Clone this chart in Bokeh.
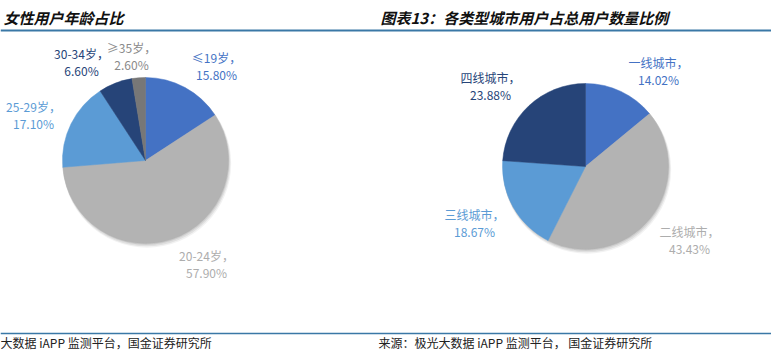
import numpy as np
from bokeh.plotting import figure
from bokeh.models import Range1d, ColumnDataSource
from bokeh.core.properties import value
from bokeh.embed import file_html
from bokeh.resources import INLINE

# ---------------- data ----------------
age_labels = ["≤19岁", "20-24岁", "25-29岁", "30-34岁", "≥35岁"]
age_values = [15.80, 57.90, 17.10, 6.60, 2.60]

city_labels = ["一线城市", "二线城市", "三线城市", "四线城市"]
city_values = [14.02, 43.43, 18.67, 23.88]

title_left = "女性用户年龄占比"
title_right = "图表13：各类型城市用户占总用户数量比例"
source_left = "大数据 iAPP 监测平台，国金证券研究所"
source_right = "来源：极光大数据 iAPP 监测平台， 国金证券研究所"

# ---------------- styles / layout ----------------
W, H = 771, 351
FONT = "Noto Sans CJK SC"
age_colors = ["#4472C4", "#B3B3B3", "#5B9BD5", "#264478", "#777777"]
age_text_colors = ["#4472C4", "#ADADAD", "#5B9BD5", "#264478", "#8A8A8A"]
city_colors = ["#4472C4", "#B3B3B3", "#5B9BD5", "#264478"]
city_text_colors = ["#4472C4", "#ADADAD", "#5B9BD5", "#264478"]

# label centres in page pixels (x, y of first line)
age_label_pos = [(216, 57), (206, 255), (33, 106), (81, 53), (131, 47)]
city_label_pos = [(658, 62), (689, 231), (474, 214), (490, 77)]
LINE_GAP = 16.5

left_center = (145, 160)
right_center = (585, 166)
R = 83


def Y(py):
    return H - py


p = figure(width=W, height=H, x_range=Range1d(0, W), y_range=Range1d(0, H),
           output_backend="svg", toolbar_location=None, min_border=0,
           outline_line_color=None, background_fill_color="white",
           border_fill_color="white")
p.axis.visible = False
p.grid.visible = False


def draw_pie(center, values, colors, text_colors, names, label_pos):
    vals = np.array(values, dtype=float)
    frac = vals / vals.sum()
    cum = np.concatenate([[0.0], np.cumsum(frac)])
    start = np.pi / 2 - 2 * np.pi * cum[:-1]
    end = np.pi / 2 - 2 * np.pi * cum[1:]
    cx, cy = center
    # soft shadow
    for off, a in [(3.0, 0.05), (2.0, 0.07), (1.0, 0.08)]:
        p.circle(x=[cx + off * 0.5], y=[Y(cy) - off], radius=R + off * 0.4,
                 fill_color="#000000", fill_alpha=a, line_color=None)
    src = ColumnDataSource(dict(start=start, end=end, color=colors))
    p.wedge(x=cx, y=Y(cy), radius=R, start_angle="start", end_angle="end",
            direction="clock", fill_color="color", line_color="color",
            line_width=0.5, source=src)
    l1 = [n + "，" for n in names]
    l2 = [f"{v:.2f}%" for v in values]
    xs = [q[0] for q in label_pos]
    ys1 = [Y(q[1]) for q in label_pos]
    ys2 = [Y(q[1] + LINE_GAP) for q in label_pos]
    p.text(x=xs, y=ys1, text=l1, text_color=text_colors,
           text_font=value(FONT), text_font_size=value("12px"),
           text_align="center", text_baseline="middle")
    p.text(x=xs, y=ys2, text=l2, text_color=text_colors,
           text_font=value(FONT), text_font_size=value("12px"),
           text_align="center", text_baseline="middle")


draw_pie(left_center, age_values, age_colors, age_text_colors, age_labels, age_label_pos)
draw_pie(right_center, city_values, city_colors, city_text_colors, city_labels, city_label_pos)

# titles
p.text(x=[3], y=[Y(17)], text=[title_left], text_color="#111111",
       text_font=value(FONT), text_font_size=value("15px"), text_font_style="bold italic",
       text_align="left", text_baseline="middle")
p.text(x=[380], y=[Y(17)], text=[title_right], text_color="#111111",
       text_font=value(FONT), text_font_size=value("15px"), text_font_style="bold italic",
       text_align="left", text_baseline="middle")

# rules
p.segment(x0=[0], y0=[Y(30)], x1=[W], y1=[Y(30)], line_color="#3A78A6", line_width=2)
p.segment(x0=[0], y0=[Y(333)], x1=[W], y1=[Y(333)], line_color="#3A78A6", line_width=1.5)

# sources
p.text(x=[0], y=[Y(342)], text=[source_left], text_color="#222222",
       text_font=value(FONT), text_font_size=value("12px"),
       text_align="left", text_baseline="middle")
p.text(x=[378], y=[Y(342)], text=[source_right], text_color="#222222",
       text_font=value(FONT), text_font_size=value("12px"),
       text_align="left", text_baseline="middle")

open("out.html", "w").write(file_html(p, INLINE))
